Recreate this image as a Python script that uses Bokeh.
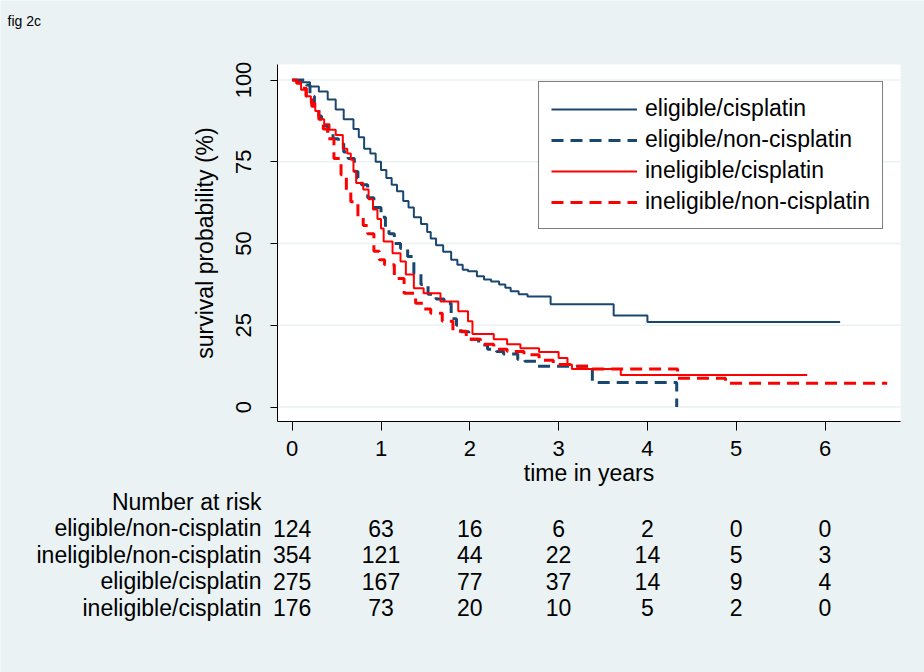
import numpy as np
from bokeh.plotting import figure
from bokeh.models import (Range1d, FixedTicker, Legend, LegendItem, LinearAxis,
                          BoxAnnotation)
from bokeh.core.properties import value
from bokeh.embed import file_html
from bokeh.resources import INLINE

# ---------------- data ----------------
# Kaplan-Meier step curves: time in years, survival probability (%)
ec_t = [0, 0.10, 0.20, 0.30, 0.40, 0.49, 0.58, 0.69, 0.75, 0.81, 0.88, 0.94, 1.00, 1.06, 1.12,
        1.18, 1.25, 1.31, 1.37, 1.45, 1.52, 1.56, 1.62, 1.70, 1.79, 1.86, 1.92, 1.98, 2.08, 2.16,
        2.24, 2.33, 2.40, 2.46, 2.55, 2.65, 2.91, 3.62, 4.00, 6.17]
ec_s = [100, 99.3, 98, 96.5, 94, 91, 88, 85, 82.5, 79, 77.5, 75, 72.5, 70, 68,
        66, 63, 61, 58, 56, 53.5, 51.5, 49.5, 47.5, 45, 43.5, 42, 41.5, 40, 39,
        38.4, 37.5, 36.5, 35.4, 34.5, 33.8, 31.4, 28, 26, 26]

enc_t = [0, 0.16, 0.20, 0.25, 0.30, 0.33, 0.40, 0.46, 0.52, 0.58, 0.63, 0.70, 0.74, 0.78, 0.85,
         0.92, 1.00, 1.05, 1.09, 1.15, 1.22, 1.30, 1.37, 1.45, 1.53, 1.62, 1.71, 1.79, 1.85, 1.90,
         1.99, 2.10, 2.20, 2.30, 2.38, 2.54, 2.62, 2.76, 3.38, 4.33]
enc_s = [100, 98.5, 95, 92, 89, 86, 83.5, 82, 80.5, 78, 76, 72, 70, 68, 64,
         61, 58, 55, 53, 50, 48.5, 46, 41, 37.5, 34.5, 33, 31.7, 27, 25, 23,
         20.7, 19, 17.7, 17, 16.2, 14.5, 14, 12.5, 7.5, 0]

ic_t = [0, 0.05, 0.10, 0.15, 0.21, 0.26, 0.30, 0.36, 0.42, 0.49, 0.57, 0.62, 0.66, 0.69, 0.72,
        0.80, 0.86, 0.91, 0.96, 1.00, 1.03, 1.13, 1.22, 1.28, 1.37, 1.48, 1.67, 1.87, 1.98, 2.03,
        2.27, 2.42, 2.57, 2.78, 3.00, 3.10, 3.15, 3.70, 5.80]
ic_s = [100, 99.4, 97, 95, 93, 90.5, 88, 86.5, 84.8, 83.2, 79, 77.5, 75.6, 72, 68.5,
        66.5, 63.5, 60.4, 57.5, 54.6, 50.6, 47, 44.5, 40.5, 36.3, 34.8, 32.3, 29.3, 26.2, 22.3,
        20.7, 19.2, 18, 16.8, 15, 13, 11.6, 9.8, 9.8]

inc_t = [0, 0.05, 0.10, 0.16, 0.22, 0.30, 0.35, 0.40, 0.47, 0.55, 0.61, 0.66, 0.74, 0.80, 0.85,
         0.92, 0.98, 1.04, 1.15, 1.26, 1.39, 1.48, 1.56, 1.69, 1.81, 1.96, 2.12, 2.27, 2.42, 2.61,
         2.78, 2.94, 3.21, 3.36, 4.34, 4.88, 6.70]
inc_s = [100, 99, 97.5, 95, 92, 88, 85, 82, 76, 71, 66, 62.8, 58, 55.5, 53,
         47.6, 45, 43.5, 39.3, 34.8, 31.7, 30, 28.7, 26.2, 23.2, 20.7, 19.2, 17.7, 17, 16,
         14.3, 13, 12.5, 11.6, 8.8, 7.3, 7.3]

legend_labels = ["eligible/cisplatin", "eligible/non-cisplatin",
                 "ineligible/cisplatin", "ineligible/non-cisplatin"]

x_ticks = [0, 1, 2, 3, 4, 5, 6]
y_ticks = [0, 25, 50, 75, 100]

# Number at risk table
risk_groups = ["eligible/non-cisplatin", "ineligible/non-cisplatin",
               "eligible/cisplatin", "ineligible/cisplatin"]
risk_times = [0, 1, 2, 3, 4, 5, 6]
risk_enc = [124, 63, 16, 6, 2, 0, 0]
risk_inc = [354, 121, 44, 22, 14, 5, 3]
risk_ec = [275, 167, 77, 37, 14, 9, 4]
risk_ic = [176, 73, 20, 10, 5, 2, 0]

# ---------------- style / layout ----------------
BG = "#EAF2F3"
NAVY = "#1A476F"
RED = "#FF0000"
FONT = "Liberation Sans"

W, H = 924, 672
# plot region in page pixels
frame_left, frame_right = 277, 900
frame_top, frame_bottom = 64, 421
# data extent of the plot region
x_start, x_end = -0.1655, 6.850
y_start, y_end = -4.43, 104.74

# the figure's frame covers the whole canvas; ranges extended accordingly
px_x = (frame_right - frame_left) / (x_end - x_start)
px_y = (frame_bottom - frame_top) / (y_end - y_start)
X0 = x_start - frame_left / px_x
X1 = x_end + (W - frame_right) / px_x
Y0 = y_start - (H - frame_bottom) / px_y
Y1 = y_end + frame_top / px_y


def dx(page_x):
    return X0 + page_x / px_x


def dy(page_y):
    return Y1 - page_y / px_y


p = figure(width=W, height=H, x_range=Range1d(X0, X1), y_range=Range1d(Y0, Y1),
           output_backend="svg", toolbar_location=None, min_border=0,
           x_axis_location=None, y_axis_location=None,
           background_fill_color=BG, border_fill_color=BG, outline_line_color=None)
p.grid.visible = False

# white plot region
p.add_layout(BoxAnnotation(left=x_start, right=x_end, bottom=y_start, top=y_end,
                           fill_color="white", fill_alpha=1, line_color=None, level="underlay"))
# horizontal grid lines
p.segment(x0=[x_start] * len(y_ticks), x1=[x_end] * len(y_ticks), y0=y_ticks, y1=y_ticks,
          line_color=BG, line_width=1.5)

r_ec = p.step(x=ec_t, y=ec_s, mode="after", line_color=NAVY, line_width=2)
r_enc = p.step(x=enc_t, y=enc_s, mode="after", line_color=NAVY, line_width=3, line_dash="12 7")
r_ic = p.step(x=ic_t, y=ic_s, mode="after", line_color=RED, line_width=2)
r_inc = p.step(x=inc_t, y=inc_s, mode="after", line_color=RED, line_width=3, line_dash="12 7")

legend = Legend(items=[LegendItem(label=lab, renderers=[r]) for lab, r in
                       zip(legend_labels, [r_ec, r_enc, r_ic, r_inc])],
                location=(538, H - 229))
legend.label_text_font = FONT
legend.label_text_font_size = "23px"
legend.label_text_color = "black"
legend.glyph_width = 86
legend.glyph_height = 20
legend.label_height = 29
legend.label_standoff = 8
legend.spacing = 2
legend.padding = 12
legend.margin = 0
legend.border_line_color = "black"
legend.border_line_width = 1
legend.background_fill_color = "white"
legend.background_fill_alpha = 1
p.add_layout(legend)

# axes drawn at the plot region's edges
xaxis = LinearAxis(fixed_location=y_start, bounds=(x_start, x_end),
                   ticker=FixedTicker(ticks=x_ticks), axis_label="time in years")
yaxis = LinearAxis(fixed_location=x_start, bounds=(y_start, y_end),
                   ticker=FixedTicker(ticks=y_ticks), axis_label="survival probability (%)")
for ax in (xaxis, yaxis):
    ax.axis_line_color = "black"
    ax.axis_line_width = 1
    ax.major_tick_line_color = "black"
    ax.major_tick_line_width = 1
    ax.major_tick_in = 0
    ax.minor_tick_line_color = None
    ax.major_label_text_font = FONT
    ax.major_label_text_font_size = "22px"
    ax.major_label_text_color = "black"
    ax.axis_label_text_font = FONT
    ax.axis_label_text_font_size = "23px"
    ax.axis_label_text_font_style = "normal"
    ax.axis_label_text_color = "black"
xaxis.major_tick_out = 9
xaxis.major_label_standoff = 10
xaxis.axis_label_standoff = 1
yaxis.major_tick_out = 7
yaxis.major_label_orientation = "vertical"
yaxis.major_label_standoff = 19
yaxis.axis_label_standoff = 16
p.add_layout(xaxis, "below")
p.add_layout(yaxis, "left")


def add_text(xs, page_y, texts, align, size="23px"):
    p.text(x=xs, y=[dy(page_y)] * len(xs), text=texts, text_font=value(FONT),
           text_font_size=size, text_color="black", text_align=align,
           text_baseline="alphabetic")


# title in the top-left corner
add_text([dx(7)], 20, ["fig 2c"], "left", size="14px")

# number-at-risk table, aligned with the time axis
label_x = dx(261)
add_text([label_x], 501.5, ["Number at risk"], "right")
rows = [risk_enc, risk_inc, risk_ec, risk_ic]
row_y0, row_dy = 527.5, 26.5
for i, (grp, vals) in enumerate(zip(risk_groups, rows)):
    yy = row_y0 + row_dy * i
    add_text([label_x], yy, [grp], "right")
    add_text(risk_times, yy, [str(v) for v in vals], "center")

open("out.html", "w").write(file_html(p, INLINE))
